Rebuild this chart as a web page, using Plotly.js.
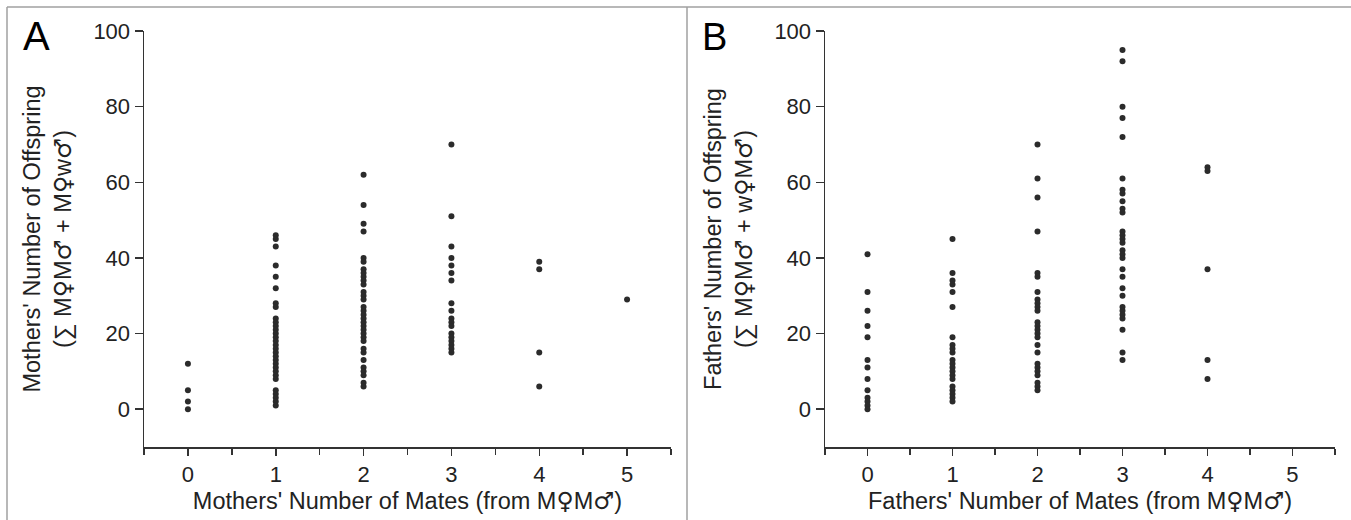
<!DOCTYPE html>
<html>
<head>
<meta charset="utf-8">
<script src="https://cdn.plot.ly/plotly-3.0.1.min.js"></script>
<style>
html,body{margin:0;padding:0;background:#fff;}
#chart{width:1351px;height:520px;}
</style>
</head>
<body>
<div id="chart"></div>
<script>
// ---- Data ----
// Panel A: mothers
const mothersMates = [0, 1, 2, 3, 4, 5];
const mothersOff0 = [0, 2, 5, 12];
const mothersOff1 = [46, 45, 43, 38, 35, 32, 28, 27, 24, 23, 22, 21, 20, 19, 18, 17, 16, 15, 14, 13, 12, 11, 10, 9, 8, 5, 4, 3, 2, 1];
const mothersOff2 = [62, 54, 49, 47, 40, 39, 37, 36, 35, 34, 33, 31, 30, 29, 27, 26, 25, 24, 23, 22, 21, 20, 19, 18, 16, 15, 13, 11, 10, 9, 7, 6];
const mothersOff3 = [70, 51, 43, 40, 38, 36, 34, 28, 26, 24, 23, 22, 20, 19, 18, 17, 16, 15];
const mothersOff4 = [39, 37, 15, 6];
const mothersOff5 = [29];

// Panel B: fathers
const fathersMates = [0, 1, 2, 3, 4];
const fathersOff0 = [41, 31, 26, 22, 19, 13, 11, 8, 5, 3, 2, 1, 0];
const fathersOff1 = [45, 36, 34, 33, 31, 27, 19, 17, 16, 15, 13, 12, 11, 10, 9, 8, 6, 5, 4, 3, 2];
const fathersOff2 = [70, 61, 56, 47, 36, 35, 31, 29, 28, 27, 26, 23, 22, 21, 20, 19, 17, 15, 12, 11, 10, 9, 7, 6, 5];
const fathersOff3 = [95, 92, 80, 77, 72, 61, 58, 57, 55, 53, 52, 47, 46, 45, 44, 42, 41, 40, 37, 35, 32, 30, 27, 26, 25, 24, 21, 15, 13];
const fathersOff4 = [64, 63, 37, 13, 8];

const xTickVals = [0, 1, 2, 3, 4, 5];
const yTickVals = [0, 20, 40, 60, 80, 100];

// ---- Build point lists ----
function expand(mates, groups) {
  const xs = [], ys = [];
  groups.forEach((g, i) => g.forEach(v => { xs.push(mates[i]); ys.push(v); }));
  return {xs, ys};
}
const A = expand(mothersMates, [mothersOff0, mothersOff1, mothersOff2, mothersOff3, mothersOff4, mothersOff5]);
const B = expand(fathersMates, [fathersOff0, fathersOff1, fathersOff2, fathersOff3, fathersOff4]);

const dotColor = '#2b2b2b';
const ink = '#333333';
const FONT = '"Liberation Sans", Arial, "DejaVu Sans", sans-serif';

// gender symbols rendered in DejaVu Sans (full-size glyphs)
const F = '<span style="font-family:DejaVu Sans">♀</span>';
const Ma = '<span style="font-family:DejaVu Sans">♂</span>';

const traces = [
  {x: A.xs, y: A.ys, type: 'scatter', mode: 'markers', xaxis: 'x', yaxis: 'y',
   marker: {size: 6, color: dotColor}, hoverinfo: 'x+y'},
  {x: B.xs, y: B.ys, type: 'scatter', mode: 'markers', xaxis: 'x2', yaxis: 'y2',
   marker: {size: 6, color: dotColor}, hoverinfo: 'x+y'}
];

function xAxis(domain, anchor, title) {
  return {
    domain: domain, anchor: anchor,
    range: [-0.5001, 5.5001],
    tickmode: 'array', tickvals: xTickVals,
    ticks: 'outside', ticklen: 7, tickwidth: 1.5, tickcolor: ink,
    showline: true, linecolor: ink, linewidth: 1.5,
    showgrid: false, zeroline: false,
    minor: {tickmode: 'linear', tick0: 0.5, dtick: 1, ticks: 'outside', ticklen: 6, tickwidth: 1.5, tickcolor: ink, showgrid: false},
    tickfont: {size: 22, color: '#222', family: FONT},
    title: {text: title, font: {size: 23.5, color: '#222', family: FONT}, standoff: 5},
    fixedrange: true
  };
}
function yAxis(anchor, title) {
  return {
    anchor: anchor, domain: [0, 1],
    range: [-10, 100],
    tickmode: 'array', tickvals: yTickVals,
    ticks: 'outside', ticklen: 8, tickwidth: 1.5, tickcolor: ink,
    showline: true, linecolor: ink, linewidth: 1.5,
    showgrid: false, zeroline: false,
    tickfont: {size: 22, color: '#222', family: FONT},
    title: {text: title, font: {size: 23.5, color: '#222', family: FONT}, standoff: 15},
    fixedrange: true
  };
}

// pixel helpers for frame shapes (paper coords)
const W = 1351, H = 520, ML = 144, MR = 16, MT = 31, MB = 73;
const PW = W - ML - MR, PH = H - MT - MB;
const px = v => (v - ML) / PW;
const py = v => (H - MB - v) / PH;
const frame = '#a0a0a0';

const layout = {
  width: W, height: H,
  margin: {l: ML, r: MR, t: MT, b: MB},
  paper_bgcolor: '#ffffff', plot_bgcolor: '#ffffff',
  showlegend: false,
  font: {family: FONT, color: '#222'},
  xaxis: xAxis([0, (671 - ML) / PW], 'y', "Mothers' Number of Mates (from M" + F + "M" + Ma + ")"),
  yaxis: yAxis('x', "Mothers' Number of Offspring<br>(∑ M" + F + "M" + Ma + " + M" + F + "w" + Ma + ")"),
  xaxis2: xAxis([(825 - ML) / PW, 1], 'y2', "Fathers' Number of Mates (from M" + F + "M" + Ma + ")"),
  yaxis2: yAxis('x2', "Fathers' Number of Offspring<br>(∑ M" + F + "M" + Ma + " + w" + F + "M" + Ma + ")"),
  shapes: [
    {type: 'line', xref: 'paper', yref: 'paper', x0: px(7), x1: px(7), y0: py(7), y1: py(530), line: {color: frame, width: 1.5}},
    {type: 'line', xref: 'paper', yref: 'paper', x0: px(687), x1: px(687), y0: py(7), y1: py(530), line: {color: frame, width: 1.5}},
    {type: 'line', xref: 'paper', yref: 'paper', x0: px(7), x1: px(1360), y0: py(7), y1: py(7), line: {color: frame, width: 1.5}}
  ],
  annotations: [
    {text: 'A', xref: 'paper', yref: 'paper', x: px(36), y: py(36), xanchor: 'center', yanchor: 'middle', showarrow: false,
     font: {size: 40, color: '#000', family: FONT}},
    {text: 'B', xref: 'paper', yref: 'paper', x: px(714), y: py(37), xanchor: 'center', yanchor: 'middle', showarrow: false,
     font: {size: 38, color: '#000', family: FONT}}
  ]
};

Plotly.newPlot('chart', traces, layout, {displayModeBar: false, staticPlot: true});
</script>
</body>
</html>
